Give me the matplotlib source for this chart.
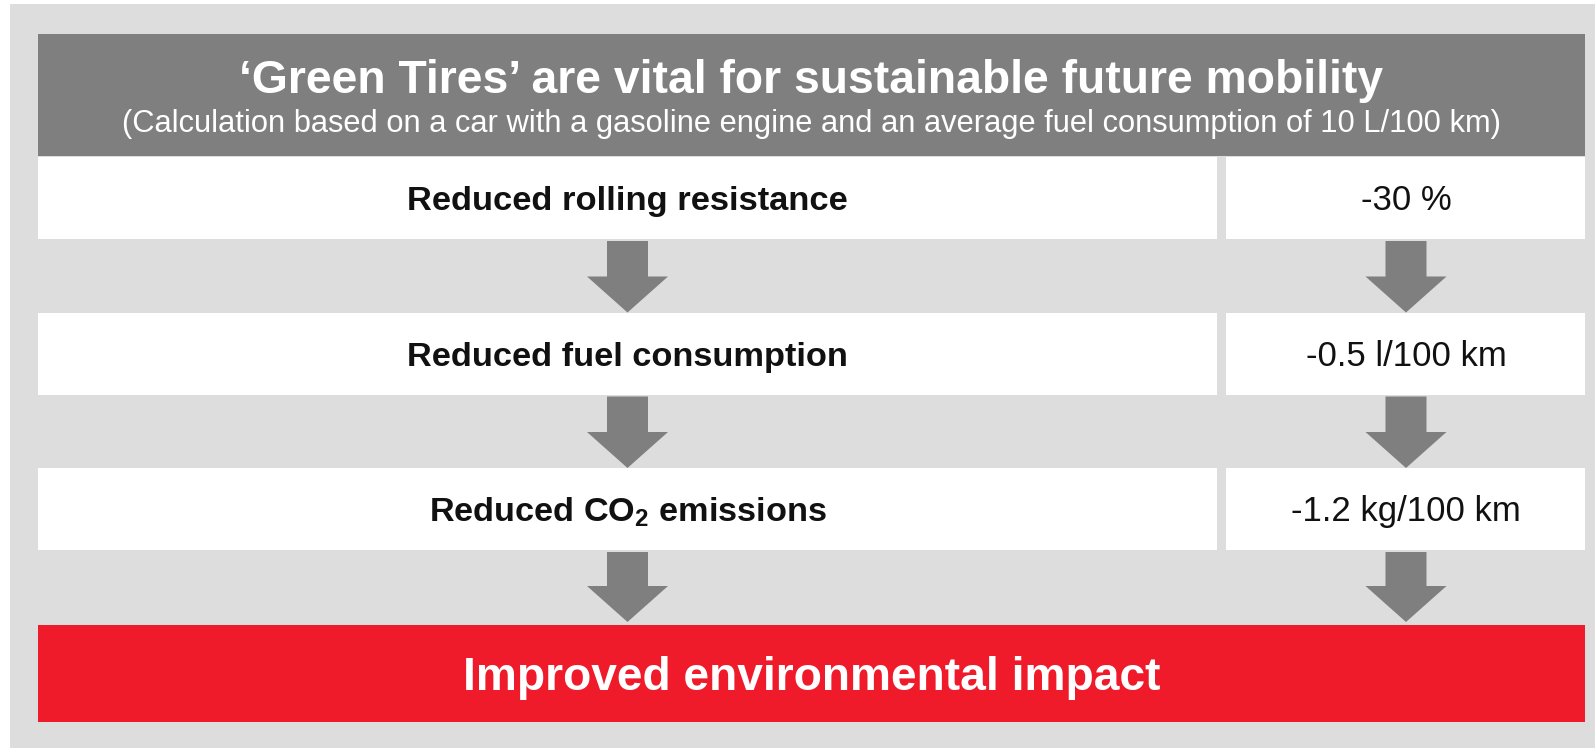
import matplotlib
matplotlib.use("Agg")
import matplotlib.pyplot as plt
from matplotlib.patches import Rectangle, Polygon

plt.rcParams['font.family'] = ['Liberation Sans', 'DejaVu Sans']
plt.rcParams['mathtext.fontset'] = 'custom'
plt.rcParams['mathtext.rm'] = 'Liberation Sans'
plt.rcParams['mathtext.bf'] = 'Liberation Sans:bold'

# ---- content ----
title = "\u2018Green Tires\u2019 are vital for sustainable future mobility"
subtitle = "(Calculation based on a car with a gasoline engine and an average fuel consumption of 10 L/100 km)"
effects = ["Reduced rolling resistance", "Reduced fuel consumption", r"Reduced CO$_\mathbf{2}$ emissions"]
values = ["-30 %", "-0.5 l/100 km", "-1.2 kg/100 km"]
conclusion = "Improved environmental impact"

# ---- colours ----
BG = "#DDDDDD"
DARK = "#7F7F7F"
RED = "#EF1B2B"

W, H = 1595, 748
fig = plt.figure(figsize=(W / 100, H / 100), dpi=100)
ax = fig.add_axes([0, 0, 1, 1])
ax.set_xlim(0, W)
ax.set_ylim(H, 0)
ax.axis("off")
renderer = fig.canvas.get_renderer()


def fit_text(x, y, s, width, **kw):
    t = ax.text(x, y, s, ha="center", va="baseline", fontsize=20, **kw)
    w = t.get_window_extent(renderer).width
    t.set_fontsize(20 * width / w)
    return t


# layout
left, right = 38, 1585
split_l, split_r = 1217, 1226
head_top, head_bot = 34, 156
row_top0, row_step, row_h = 157, 155.5, 82
red_top, red_bot = 625, 722
col_centers = [627.5, 1406]
shaft_w, head_w, head_len = 41, 81, 36
label_w = [440, 442, 398]

ax.add_patch(Rectangle((10, 4), W - 10, H - 4, color=BG, lw=0))
ax.add_patch(Rectangle((left, head_top), right - left, head_bot - head_top, color=DARK, lw=0))
fit_text((left + right) / 2, 93, title, 1142, color="white", fontweight="bold")
fit_text((left + right) / 2, 132, subtitle, 1376, color="white")

for i, (lab, val) in enumerate(zip(effects, values)):
    top = row_top0 + i * row_step
    ax.add_patch(Rectangle((left, top), split_l - left, row_h, color="white", lw=0))
    ax.add_patch(Rectangle((split_r, top), right - split_r, row_h, color="white", lw=0))
    base = top + row_h / 2 + 12
    fit_text(col_centers[0], base, lab, label_w[i], fontweight="bold", color="#111111")
    ax.text(col_centers[1], base, val, ha="center", va="baseline", fontsize=25,
            color="#111111")
    # arrows below the row
    a_top = top + row_h + 2
    a_tip = (row_top0 + (i + 1) * row_step) if i < len(effects) - 1 else red_top - 3
    for cx in col_centers:
        hs = a_tip - head_len
        pts = [(cx - shaft_w / 2, a_top), (cx + shaft_w / 2, a_top), (cx + shaft_w / 2, hs),
               (cx + head_w / 2, hs), (cx, a_tip), (cx - head_w / 2, hs), (cx - shaft_w / 2, hs)]
        ax.add_patch(Polygon(pts, closed=True, color=DARK, lw=0))

ax.add_patch(Rectangle((left, red_top), right - left, red_bot - red_top, color=RED, lw=0))
fit_text((left + right) / 2, 690, conclusion, 697, color="white", fontweight="bold")

fig.savefig("out.png", dpi=100, facecolor="white")
